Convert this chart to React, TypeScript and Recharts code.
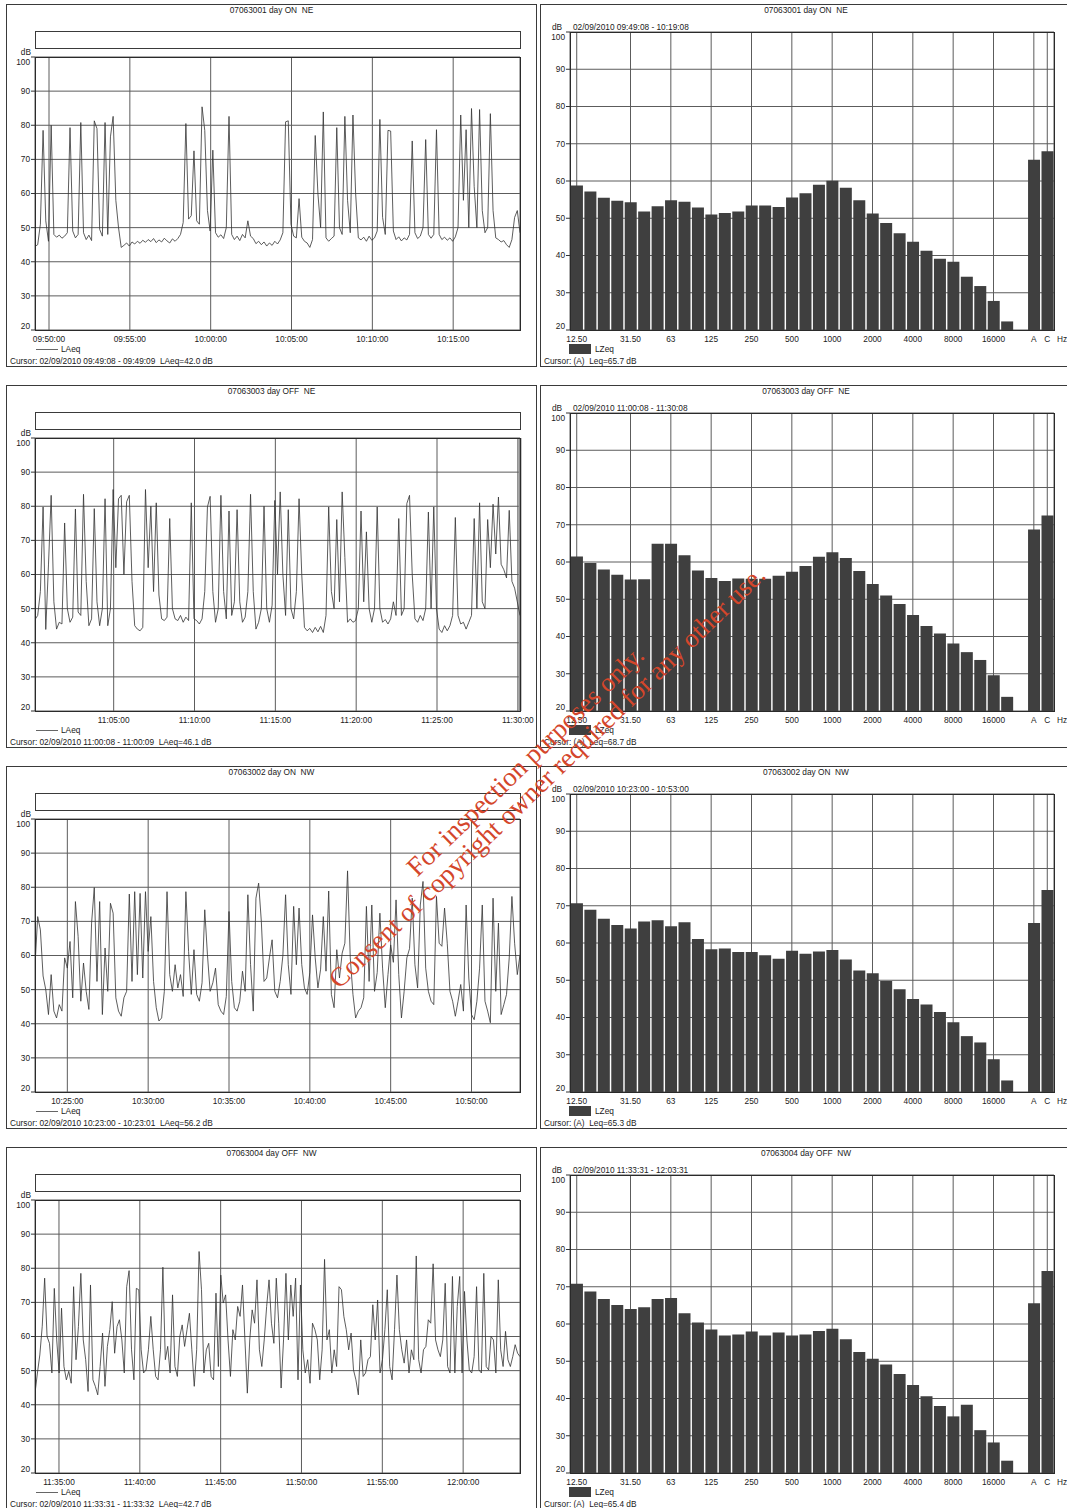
import React from 'react';
import {
  LineChart,
  Line,
  BarChart,
  Bar,
  XAxis,
  YAxis,
  CartesianGrid,
  ReferenceLine
} from 'recharts';

const FONT = '"Liberation Sans", Arial, Helvetica, sans-serif';
const INK = '#1a1a1a';
const GRID = '#5c5c5c';
const FS = 8.3;

// 1/3 octave bands, an empty slot, then the A and C totals
const bands = [
  '12.50', '16', '20', '25', '31.50', '40', '50', '63', '80', '100', '125', '160',
  '200', '250', '315', '400', '500', '630', '800', '1000', '1250', '1600', '2000', '2500',
  '3150', '4000', '5000', '6300', '8000', '10000', '12500', '16000', '20000', '', 'A', 'C'
];
const bandTicks = ['12.50', '31.50', '63', '125', '250', '500', '1000', '2000', '4000', '8000', '16000', 'A', 'C'];
const dbTicks = [20, 30, 40, 50, 60, 70, 80, 90, 100];

const titles = ['07063001 day ON  NE', '07063003 day OFF  NE', '07063002 day ON  NW', '07063004 day OFF  NW'];
const starts = ['09:49:08', '11:00:08', '10:23:00', '11:33:31'];
const ends = ['10:19:08', '11:30:08', '10:53:00', '12:03:31'];
const cursorLeft = [
  'Cursor: 02/09/2010 09:49:08 - 09:49:09  LAeq=42.0 dB',
  'Cursor: 02/09/2010 11:00:08 - 11:00:09  LAeq=46.1 dB',
  'Cursor: 02/09/2010 10:23:00 - 10:23:01  LAeq=56.2 dB',
  'Cursor: 02/09/2010 11:33:31 - 11:33:32  LAeq=42.7 dB'
];
const cursorRight = [
  'Cursor: (A)  Leq=65.7 dB',
  'Cursor: (A)  Leq=68.7 dB',
  'Cursor: (A)  Leq=65.3 dB',
  'Cursor: (A)  Leq=65.4 dB'
];

const timeTicks1 = ['09:50:00', '09:55:00', '10:00:00', '10:05:00', '10:10:00', '10:15:00'];
const timeTicks2 = ['11:05:00', '11:10:00', '11:15:00', '11:20:00', '11:25:00', '11:30:00'];
const timeTicks3 = ['10:25:00', '10:30:00', '10:35:00', '10:40:00', '10:45:00', '10:50:00'];
const timeTicks4 = ['11:35:00', '11:40:00', '11:45:00', '11:50:00', '11:55:00', '12:00:00'];

// LAeq time histories (spread evenly over 30 minutes)
const laeq1 = [
  44.5, 45.0, 51.0, 78.5, 52.0, 46.0, 80.0, 48.0, 47.2, 47.8,
  46.9, 47.5, 48.5, 79.3, 49.0, 47.0, 48.0, 80.8, 48.5, 46.5,
  47.8, 46.2, 81.3, 79.0, 49.5, 47.5, 80.8, 48.0, 76.6, 82.6,
  58.0, 50.0, 44.2, 44.8, 45.5, 44.6, 45.8, 45.2, 46.0, 45.4,
  46.3, 45.7, 46.5, 45.9, 46.8, 45.6, 46.4, 45.8, 46.9, 46.1,
  45.5, 46.7, 46.0, 46.8, 48.0, 51.5, 80.5, 52.5, 53.5, 72.5,
  52.0, 51.0, 85.4, 78.5, 55.0, 49.0, 72.7, 48.5, 47.2, 47.9,
  46.8, 50.0, 82.6, 48.0, 46.5, 47.5, 46.2, 48.0, 47.0, 52.0,
  47.5, 46.8, 45.3, 46.0, 45.0, 45.8, 44.6, 45.5, 44.8, 46.0,
  45.2, 46.4, 48.5, 81.0, 81.3, 51.0, 47.5, 47.0, 58.5, 47.2,
  46.0, 45.5, 44.2, 46.5, 77.0, 60.0, 50.0, 83.9, 47.0, 46.0,
  46.8, 47.5, 79.3, 50.0, 48.0, 82.6, 58.0, 48.5, 83.0, 60.0,
  47.0, 46.4, 47.2, 46.0, 47.5, 46.3, 47.0, 49.0, 81.7, 53.0,
  48.0, 78.5, 78.3, 49.0, 46.5, 47.3, 46.1, 47.0, 46.4, 48.0,
  75.4, 48.5, 46.8, 47.5, 50.0, 75.8, 48.0, 46.9, 48.0, 78.7,
  48.0, 46.5, 47.2, 46.3, 47.0, 46.0, 47.3, 50.0, 83.0, 58.0,
  78.7, 50.0, 84.9, 62.0, 50.0, 84.6, 55.0, 48.5, 50.0, 83.4,
  55.0, 47.0, 46.5, 45.8, 46.2, 45.0, 44.2, 46.5, 53.0, 55.0, 48.5
];
const laeq2 = [
  46.8, 48.0, 55.0, 79.8, 43.9, 62.8, 83.2, 52.0, 44.0, 46.0,
  45.5, 75.1, 50.0, 46.0, 47.5, 79.2, 49.0, 48.0, 83.5, 58.0,
  45.0, 47.0, 79.3, 52.0, 45.0, 50.0, 82.2, 45.0, 50.0, 84.9,
  62.0, 82.2, 83.2, 60.0, 81.3, 83.2, 58.0, 45.0, 44.0, 43.5,
  44.5, 84.9, 62.0, 80.0, 55.0, 81.0, 54.0, 47.0, 46.5, 47.5,
  76.4, 50.0, 47.0, 46.5, 48.0, 46.0, 47.5, 46.5, 81.0, 47.0,
  46.5, 45.5, 47.0, 55.0, 79.8, 82.9, 55.0, 46.0, 50.0, 83.2,
  55.0, 47.0, 78.6, 48.0, 52.0, 79.0, 52.0, 46.0, 47.5, 55.0,
  83.5, 55.0, 44.0, 46.0, 50.0, 80.0, 50.0, 46.0, 51.0, 81.7,
  60.0, 84.2, 60.0, 48.0, 79.0, 50.0, 47.0, 55.0, 82.2, 60.0,
  44.5, 43.5, 44.2, 43.0, 44.5, 43.2, 44.8, 43.0, 48.0, 79.8,
  55.0, 50.0, 76.1, 52.0, 84.2, 65.0, 46.0, 47.0, 46.0, 46.5,
  50.0, 78.6, 52.0, 72.5, 50.0, 46.0, 50.0, 79.8, 50.0, 46.0,
  46.8, 45.5, 47.0, 52.0, 48.0, 76.4, 48.0, 50.0, 80.8, 83.2,
  60.0, 47.0, 46.0, 48.0, 46.5, 50.0, 78.3, 50.0, 79.8, 50.0,
  44.0, 43.0, 45.0, 43.5, 45.0, 48.0, 76.7, 48.0, 45.5, 46.0,
  44.0, 46.0, 48.0, 76.4, 50.0, 81.0, 52.0, 50.0, 76.1, 62.0,
  80.6, 66.0, 82.7, 63.0, 61.4, 59.0, 78.8, 58.0, 56.0, 52.0, 48.0
];
const laeq3 = [
  57.0, 71.4, 67.5, 54.0, 50.0, 42.7, 54.4, 43.7, 41.7, 45.6,
  43.7, 59.3, 56.3, 64.1, 47.6, 75.8, 65.6, 46.6, 57.8, 49.5,
  44.2, 69.5, 79.9, 52.4, 75.8, 42.7, 62.2, 49.5, 75.3, 72.4,
  47.6, 43.7, 42.2, 47.6, 49.5, 78.0, 52.4, 78.7, 54.4, 78.2,
  53.4, 78.7, 61.2, 71.4, 52.4, 44.7, 40.8, 41.7, 49.5, 78.7,
  54.4, 49.5, 57.3, 50.5, 54.4, 48.0, 78.7, 61.2, 48.6, 61.7,
  48.6, 46.6, 52.0, 73.4, 60.2, 49.5, 52.0, 56.3, 45.6, 43.7,
  42.7, 48.0, 72.9, 52.4, 44.7, 43.7, 46.6, 55.4, 49.5, 77.8,
  57.3, 43.7, 76.8, 81.2, 70.0, 52.4, 53.4, 59.3, 64.6, 49.5,
  47.6, 52.4, 60.0, 77.8, 57.3, 48.6, 74.4, 57.3, 73.9, 57.3,
  50.5, 48.6, 55.0, 71.9, 59.3, 50.5, 56.0, 71.4, 55.4, 78.9,
  48.6, 44.7, 61.7, 53.4, 60.7, 63.6, 84.8, 59.3, 48.6, 41.7,
  43.7, 44.7, 47.6, 74.4, 52.4, 74.8, 49.5, 55.0, 72.4, 56.3,
  44.7, 54.4, 63.1, 58.0, 76.3, 54.4, 41.7, 49.5, 59.3, 62.0,
  76.8, 57.3, 50.5, 74.8, 81.7, 56.3, 49.5, 46.6, 45.6, 77.3,
  63.6, 62.7, 73.9, 63.6, 49.5, 46.6, 42.2, 46.6, 51.5, 43.7,
  74.8, 53.4, 42.7, 41.2, 46.6, 56.3, 74.8, 46.6, 43.7, 40.3,
  76.8, 49.5, 69.5, 42.7, 45.6, 48.6, 59.3, 77.3, 63.6, 54.4, 60.2
];
const laeq4 = [
  43.4, 49.3, 54.6, 63.0, 77.1, 60.0, 58.0, 49.3, 74.1, 59.0,
  49.3, 68.3, 51.2, 47.3, 49.8, 46.3, 74.6, 53.2, 62.9, 78.5,
  59.0, 53.2, 43.9, 75.1, 47.3, 45.4, 42.9, 51.2, 61.0, 45.4,
  57.1, 62.0, 70.2, 55.1, 62.9, 64.9, 59.0, 49.3, 74.6, 79.3,
  56.1, 47.3, 74.1, 73.7, 56.1, 49.3, 50.2, 56.1, 65.9, 56.1,
  48.3, 47.3, 56.1, 80.3, 53.2, 57.1, 49.3, 72.2, 51.2, 48.3,
  60.0, 63.4, 57.1, 62.0, 66.8, 56.1, 45.4, 56.1, 84.9, 73.7,
  49.3, 56.1, 58.0, 48.3, 47.3, 72.7, 51.2, 78.0, 69.8, 72.2,
  59.0, 48.3, 62.0, 59.0, 68.8, 65.9, 75.1, 59.0, 43.4, 59.0,
  67.8, 63.9, 76.6, 56.1, 51.2, 59.0, 68.8, 76.6, 63.9, 58.0,
  77.1, 63.9, 44.9, 59.0, 78.5, 59.0, 75.1, 65.9, 77.1, 47.3,
  75.1, 56.1, 49.3, 53.2, 46.3, 63.9, 62.0, 59.0, 47.3, 56.1,
  82.6, 59.0, 62.0, 49.3, 56.1, 51.2, 74.6, 73.7, 65.9, 62.0,
  56.1, 61.0, 50.2, 47.3, 42.9, 59.0, 48.3, 49.3, 53.2, 54.1,
  69.3, 59.0, 70.7, 49.3, 53.2, 62.0, 73.7, 51.2, 47.3, 62.0,
  78.0, 62.0, 56.1, 52.2, 59.0, 49.3, 56.1, 53.2, 83.6, 53.2,
  49.3, 56.1, 57.1, 64.9, 63.9, 81.3, 59.0, 56.1, 54.1, 59.0,
  75.6, 51.2, 49.3, 77.6, 49.3, 68.8, 77.6, 49.3, 73.2, 59.0,
  50.2, 49.3, 54.1, 74.6, 50.2, 49.3, 78.5, 51.2, 50.2, 60.0,
  59.0, 49.3, 76.6, 56.1, 51.2, 61.5, 53.2, 51.2, 54.1, 57.6,
  55.1, 54.1
];

// LZeq spectra, dB (null = empty slot)
const spec1 = [
  58.8, 57.2, 55.5, 54.7, 54.3, 51.8, 53.2, 54.8, 54.4, 52.9, 51.0, 51.4,
  51.8, 53.4, 53.4, 53.0, 55.6, 56.7, 59.0, 60.1, 58.2, 54.8, 51.3, 48.7,
  46.0, 43.7, 41.3, 39.1, 38.3, 34.3, 31.8, 27.8, 22.3, null, 65.7, 68.0
];
const spec2 = [
  61.5, 59.7, 58.0, 56.6, 55.3, 55.4, 64.9, 64.9, 61.8, 57.7, 55.7, 54.9,
  55.6, 55.5, 55.5, 56.3, 57.4, 58.9, 61.4, 62.6, 61.1, 57.6, 54.1, 51.0,
  48.7, 45.8, 42.8, 40.8, 38.1, 35.8, 33.7, 29.6, 23.8, null, 68.7, 72.5
];
const spec3 = [
  70.7, 68.9, 66.5, 64.8, 63.9, 65.8, 66.1, 64.5, 65.6, 61.1, 58.3, 58.5,
  57.6, 57.6, 56.7, 55.8, 57.9, 57.1, 57.7, 58.1, 55.6, 52.6, 51.9, 49.8,
  47.6, 45.0, 43.5, 41.5, 38.7, 35.0, 33.3, 28.8, 23.1, null, 65.4, 74.2
];
const spec4 = [
  70.8, 68.7, 66.7, 65.1, 64.0, 64.5, 66.7, 67.0, 62.9, 60.4, 58.5, 56.9,
  57.2, 58.0, 56.9, 57.7, 56.9, 57.2, 58.1, 58.7, 55.9, 52.5, 50.7, 49.1,
  46.6, 43.6, 40.6, 38.0, 35.2, 38.3, 31.5, 28.2, 23.3, null, 65.6, 74.2
];

const laeqSets = [laeq1, laeq2, laeq3, laeq4];
const specSets = [spec1, spec2, spec3, spec4];
const tickSets = [timeTicks1, timeTicks2, timeTicks3, timeTicks4];

const ROW_H = 381;

function toSec(s: string) {
  const [h, m, x] = s.split(':').map(Number);
  return h * 3600 + m * 60 + x;
}

function Txt({ x, y, w, align, children, size }: any) {
  return (
    <div
      style={{
        position: 'absolute',
        left: x,
        top: y - 5,
        width: w,
        textAlign: align || 'left',
        fontSize: size || FS,
        lineHeight: '10px',
        fontFamily: FONT,
        color: INK,
        whiteSpace: 'pre'
      }}
    >
      {children}
    </div>
  );
}

function DbTick(props: any) {
  const { x, y, payload } = props;
  const v = payload.value;
  const dy = v === 100 ? 5 : v === 20 ? -4 : 0;
  return (
    <text x={x} y={y + dy} dy="0.35em" textAnchor="end" fontSize={FS} fill={INK} fontFamily={FONT}>
      {v}
    </text>
  );
}

function LevelChart({ idx }: { idx: number }) {
  const values = laeqSets[idx];
  const step = 1800 / (values.length - 1);
  const pts = values.map((v, i) => ({ t: i * step, v }));
  const s0 = toSec(starts[idx]);
  const labels = tickSets[idx];
  const tickPos = labels.map((l) => toSec(l) - s0);
  const fmt = (t: number) => {
    const k = tickPos.indexOf(t);
    return k >= 0 ? labels[k] : '';
  };
  return (
    <div style={{ position: 'absolute', left: 0, top: 40 }}>
      <LineChart width={540} height={310} data={pts} margin={{ top: 17, right: 20, bottom: 6, left: 0 }}>
        <CartesianGrid stroke={GRID} strokeWidth={1} />
        <XAxis
          dataKey="t"
          type="number"
          domain={[0, 1800]}
          ticks={tickPos}
          tickFormatter={fmt}
          interval={0}
          height={14}
          tickLine={false}
          axisLine={false}
          tickMargin={0}
          allowDataOverflow
          tick={{ fontSize: FS, fill: INK, fontFamily: FONT }}
        />
        <YAxis
          domain={[20, 100]}
          ticks={dbTicks}
          interval={0}
          width={35}
          tickSize={4}
          tickMargin={1}
          tickLine={{ stroke: '#333' }}
          axisLine={false}
          allowDataOverflow
          tick={DbTick}
        />
        {idx === 1 && <ReferenceLine x={1800} stroke="#8c8c8c" strokeWidth={3} />}
        <Line
          dataKey="v"
          stroke="#333"
          strokeWidth={0.8}
          dot={false}
          isAnimationActive={false}
        />
      </LineChart>
    </div>
  );
}

function SpectrumChart({ idx }: { idx: number }) {
  const pts = bands.map((band, i) => ({ band, v: specSets[idx][i] }));
  return (
    <div style={{ position: 'absolute', left: 540, top: 20 }}>
      <BarChart
        width={520}
        height={330}
        data={pts}
        margin={{ top: 12, right: 6, bottom: 6, left: 0 }}
        barCategoryGap="7%"
      >
        <CartesianGrid stroke={GRID} strokeWidth={1} />
        <XAxis
          dataKey="band"
          ticks={bandTicks}
          interval={0}
          height={14}
          tickLine={false}
          axisLine={false}
          tickMargin={0}
          tick={{ fontSize: FS, fill: INK, fontFamily: FONT }}
        />
        <YAxis
          domain={[20, 100]}
          ticks={dbTicks}
          interval={0}
          width={30}
          tickSize={4}
          tickMargin={1}
          tickLine={{ stroke: '#333' }}
          axisLine={false}
          allowDataOverflow
          tick={DbTick}
        />
        <Bar dataKey="v" fill="#3f3f3f" isAnimationActive={false} />
      </BarChart>
    </div>
  );
}

function Row({ idx }: { idx: number }) {
  const frame = {
    position: 'absolute' as const,
    border: '1px solid #3a3a3a',
    boxSizing: 'border-box' as const
  };
  return (
    <div style={{ position: 'absolute', left: 0, top: idx * ROW_H, width: 1067, height: ROW_H }}>
      <div style={{ ...frame, left: 6, top: 4, width: 531, height: 363 }} />
      <div style={{ ...frame, left: 540, top: 4, width: 540, height: 363 }} />

      <Txt x={6} y={10} w={531} align="center">{titles[idx]}</Txt>
      <Txt x={540} y={10} w={532} align="center">{titles[idx]}</Txt>

      <div style={{ ...frame, left: 35, top: 31, width: 486, height: 18 }} />
      <Txt x={10} y={52} w={21} align="right">dB</Txt>

      <LevelChart idx={idx} />
      <div style={{ ...frame, left: 35, top: 57, width: 486, height: 274, borderColor: '#2a2a2a' }} />

      <div style={{ position: 'absolute', left: 36, top: 349, width: 22, borderTop: '1px solid #666' }} />
      <Txt x={61} y={349}>LAeq</Txt>
      <Txt x={10} y={361}>{cursorLeft[idx]}</Txt>

      <Txt x={552} y={27}>dB</Txt>
      <Txt x={573} y={27}>{'02/09/2010 ' + starts[idx] + ' - ' + ends[idx]}</Txt>

      <SpectrumChart idx={idx} />
      <div style={{ ...frame, left: 570, top: 32, width: 485, height: 299, borderColor: '#2a2a2a' }} />

      <Txt x={1057} y={339}>Hz</Txt>
      <div style={{ position: 'absolute', left: 569, top: 344, width: 22, height: 10, background: '#3f3f3f' }} />
      <Txt x={595} y={349}>LZeq</Txt>
      <Txt x={544} y={361}>{cursorRight[idx]}</Txt>
    </div>
  );
}

const stamp = {
  position: 'absolute' as const,
  transformOrigin: '0 0',
  transform: 'rotate(-44deg)',
  fontFamily: '"Liberation Serif", "Times New Roman", serif',
  fontSize: 27,
  lineHeight: '27px',
  color: '#d4462b',
  whiteSpace: 'nowrap' as const,
  zIndex: 10
};

export default function App() {
  return (
    <div
      style={{
        position: 'absolute',
        left: 0,
        top: 0,
        width: 1067,
        height: 1508,
        overflow: 'hidden',
        background: '#fff'
      }}
    >
      {[0, 1, 2, 3].map((i) => (
        <Row key={i} idx={i} />
      ))}
      <div style={{ ...stamp, left: 402, top: 862 }}>For inspection purposes only.</div>
      <div style={{ ...stamp, left: 324, top: 974 }}>Consent of copyright owner required for any other use.</div>
    </div>
  );
}
